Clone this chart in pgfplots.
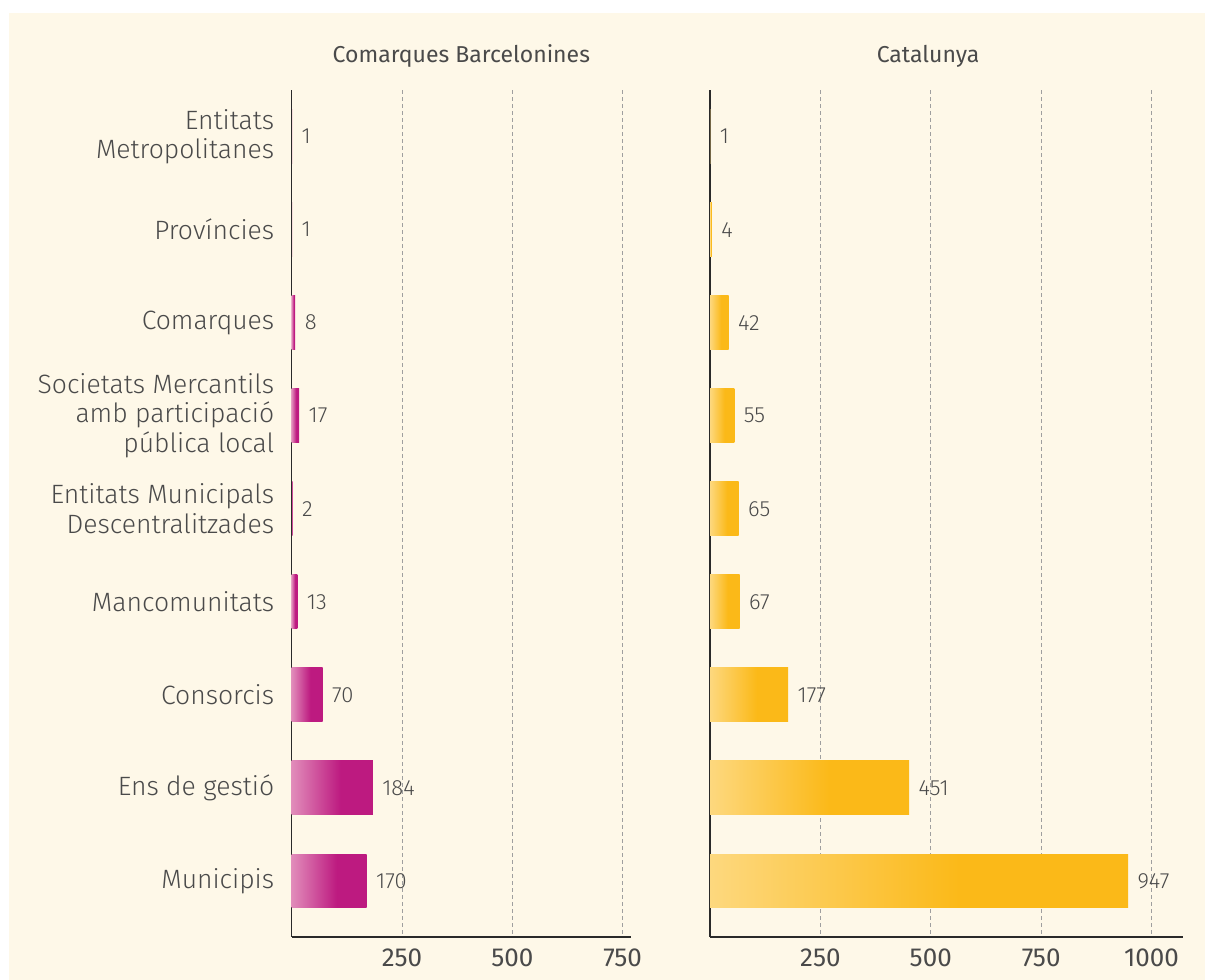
\documentclass[border=0pt]{standalone}
\usepackage{pgfplots}
\pgfplotsset{compat=1.18}
\usepackage{fontspec}
\setmainfont{Fira Sans}[UprightFont={* Light}]
\newfontfamily\regfont{Fira Sans}
\definecolor{cream}{HTML}{FEF8E8}
\definecolor{txt}{HTML}{4A4A4A}
\definecolor{axl}{HTML}{2A2A2A}
\definecolor{pinkL}{HTML}{E18CBA}
\definecolor{pinkF}{HTML}{BD1A80}
\definecolor{yelL}{HTML}{FDD87E}
\definecolor{yelF}{HTML}{FBB918}
\pgfdeclarehorizontalshading{pinkbar}{100bp}{color(0bp)=(pinkL); color(25bp)=(pinkL); color(55bp)=(pinkF); color(100bp)=(pinkF)}
\pgfdeclarehorizontalshading{yelbar}{100bp}{color(0bp)=(yelL); color(25bp)=(yelL); color(55bp)=(yelF); color(100bp)=(yelF)}
\pgfplotsset{
  mybase/.style={
    scale only axis, height=846.7bp,
    y dir=reverse, ymin=-0.5, ymax=8.6,
    xmin=0,
    axis x line=bottom, axis y line=left,
    axis line style={-, draw=axl, line width=1.6pt},
    ytick=\empty,
    major tick length=0pt,
    xmajorgrids, grid style={color=gray!75, line width=0.6pt, dash pattern=on 4bp off 3bp},
    xticklabel style={font=\regfont\fontsize{26bp}{30bp}\selectfont, text=txt, yshift=-9bp},
    /pgf/number format/assume math mode=true,
    /pgf/number format/1000 sep={},
    title style={font=\regfont\fontsize{23bp}{27bp}\selectfont, text=txt, anchor=base, yshift=22bp},
    bar width=0.577,
    point meta=x,
    nodes near coords={\pgfmathprintnumber{\pgfplotspointmeta}},
    nodes near coords style={font=\fontsize{22bp}{25bp}\selectfont, text=txt, anchor=west, xshift=6bp},
    clip=false,
  },
  pb/.style={xbar, bar shift=0pt, draw=none, shading=pinkbar},
  yb/.style={xbar, bar shift=0pt, draw=none, shading=yelbar},
}
\begin{document}
\begin{tikzpicture}
\fill[white] (0bp,0bp) rectangle (1205bp,980bp);
\fill[cream] (9bp,0bp) rectangle (1205bp,967bp);
% left panel
\begin{axis}[mybase, at={(291.7bp,43.3bp)}, anchor=south west,
  width=339.3bp, xmax=769, xtick={250,500,750},
  title={Comarques Barcelonines}, title style={at={(0.5,1)}},
  ytick={0,...,8},
  yticklabels={{Entitats\\Metropolitanes},{Províncies},{Comarques},{Societats Mercantils\\amb participació\\pública local},{Entitats Municipals\\Descentralitzades},{Mancomunitats},{Consorcis},{Ens de gestió},{Municipis}},
  yticklabel style={align=right, font=\fontsize{26.5bp}{29.5bp}\selectfont, text=txt, xshift=-14bp},
  ]
\addplot[pb] coordinates {(1,0)};
\addplot[pb] coordinates {(1,1)};
\addplot[pb] coordinates {(8,2)};
\addplot[pb] coordinates {(17,3)};
\addplot[pb] coordinates {(2,4)};
\addplot[pb] coordinates {(13,5)};
\addplot[pb] coordinates {(70,6)};
\addplot[pb] coordinates {(184,7)};
\addplot[pb] coordinates {(170,8)};
\end{axis}
% right panel
\begin{axis}[mybase, at={(710bp,43.3bp)}, anchor=south west,
  width=473.3bp, xmax=1072, xtick={250,500,750,1000},
  title={Catalunya}, title style={at={(0.4606,1)}},
  ]
\addplot[yb] coordinates {(1,0)};
\addplot[yb] coordinates {(4,1)};
\addplot[yb] coordinates {(42,2)};
\addplot[yb] coordinates {(55,3)};
\addplot[yb] coordinates {(65,4)};
\addplot[yb] coordinates {(67,5)};
\addplot[yb] coordinates {(177,6)};
\addplot[yb] coordinates {(451,7)};
\addplot[yb] coordinates {(947,8)};
\end{axis}
\end{tikzpicture}
\end{document}
